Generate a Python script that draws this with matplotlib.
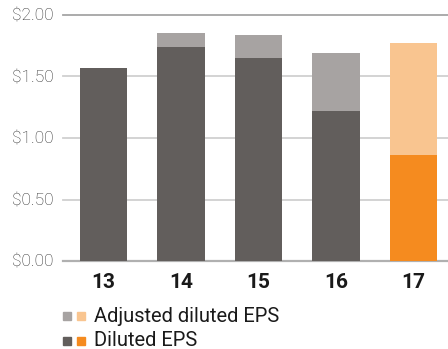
import matplotlib
matplotlib.use("Agg")
import matplotlib.pyplot as plt
from matplotlib.patches import Rectangle
import numpy as np

plt.rcParams['font.family'] = ['Roboto', 'DejaVu Sans']

years = ['13', '14', '15', '16', '17']
diluted_eps = [1.57, 1.74, 1.65, 1.22, 0.86]
adjusted_eps = [1.57, 1.85, 1.84, 1.69, 1.77]
y_ticks = [0.0, 0.5, 1.0, 1.5, 2.0]
y_labels = ['$0.00', '$0.50', '$1.00', '$1.50', '$2.00']

dark_grey = '#625e5c'
light_grey = '#a7a3a2'
orange = '#f58b1f'
light_orange = '#f9c590'

fig = plt.figure(figsize=(4.48, 3.49), dpi=100)
ax = fig.add_axes([63 / 448, 1 - 261 / 349, 1 - 63 / 448, 246 / 349])

x = np.arange(len(years))
base_cols = [dark_grey] * 4 + [orange]
top_cols = [light_grey] * 4 + [light_orange]
extra = np.array(adjusted_eps) - np.array(diluted_eps)

ax.bar(x, diluted_eps, width=0.61, color=base_cols, zorder=3)
ax.bar(x, extra, bottom=diluted_eps, width=0.61, color=top_cols, zorder=3)

ax.set_xlim(-0.523, 4.445)
ax.set_ylim(0, 2.0)
ax.set_yticks(y_ticks)
ax.set_yticklabels(y_labels, fontsize=12.5, color='#2e2e2e', fontweight='light')
ax.set_xticks(x)
ax.set_xticklabels(years, fontsize=15, fontweight='bold', color='#1a1a1a')
ax.tick_params(length=0)
ax.tick_params(axis='y', pad=7)
ax.tick_params(axis='x', pad=9)

for v in y_ticks:
    if v == 0:
        col, lw = '#b0b0b0', 1.6
    elif v == 2.0:
        col, lw = '#a5a5a5', 1.3
    else:
        col, lw = '#d0d0d0', 1.3
    ax.axhline(v, color=col, lw=lw, zorder=1, clip_on=False)

for s in ax.spines.values():
    s.set_visible(False)

# legend
W, H = 448, 349
rows = [('Adjusted diluted EPS', light_grey, light_orange, 316),
        ('Diluted EPS', dark_grey, orange, 341)]
for label, c1, c2, yc in rows:
    for xs, c in [(63, c1), (77, c2)]:
        fig.patches.append(Rectangle((xs / W, 1 - (yc + 4) / H), 8 / W, 8 / H,
                                     transform=fig.transFigure, color=c))
    fig.text(94 / W, 1 - yc / H, label, fontsize=14.5, va='center', ha='left',
             color='#1a1a1a')

fig.savefig('out.png', dpi=100)
